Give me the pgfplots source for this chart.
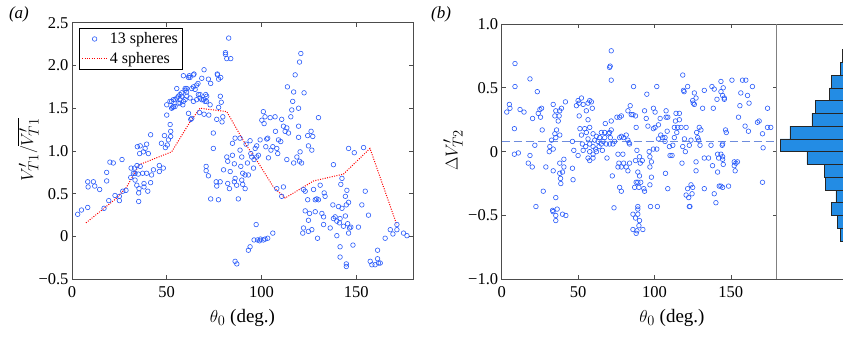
\documentclass[border=0pt]{standalone}
\usepackage{fontspec}
\setmainfont{Liberation Serif}
\usepackage{pgfplots}
\pgfplotsset{compat=1.18}

\definecolor{ptblue}{RGB}{40,90,250}
\definecolor{histblue}{RGB}{35,140,228}
\definecolor{meanline}{RGB}{110,140,220}
\definecolor{framec}{gray}{0.3}

\pgfplotsset{
  panel/.style={
    scale only axis,
    axis line style={framec, line width=0.8pt},
    tick style={framec, line width=0.7pt},
    tick align=inside,
    tick pos=both,
    major tick length=4pt,
    /pgf/number format/assume math mode=true,
    ticklabel style={font=\fontsize{16.5}{18}\selectfont},
    xticklabel style={yshift=-4pt},
    xmin=0, xmax=180,
    xtick={0,50,100,150},
    xticklabels={0,50,100,150},
  },
  pts/.style={only marks, mark=o, mark size=2.3pt, ptblue, mark options={line width=0.6pt}},
  markimg/.style={legend image code/.code={\draw[##1] plot[only marks] coordinates {(12.5pt,0pt)}; \path[draw=none] (0pt,0pt) -- (26pt,0pt);}},
  lineimg/.style={legend image code/.code={\draw[##1] (0pt,0pt) -- (25pt,0pt); \path[draw=none] (0pt,0pt) -- (26pt,0pt);}},
}

\begin{document}
\begin{tikzpicture}
\useasboundingbox (0pt,0pt) rectangle (843pt,337pt);

% ---------------- panel (a)
\begin{axis}[panel,
  at={(72pt,57.7pt)}, anchor=south west,
  width=341pt, height=256.6pt,
  ymin=-0.5, ymax=2.5,
  ytick={-0.5,0,0.5,1,1.5,2,2.5},
  yticklabels={−0.5,0,0.5,1.0,1.5,2.0,2.5},
  legend style={at={(0.02,0.979)}, anchor=north west, draw=black, line width=0.6pt,
    fill=white, font=\fontsize{16}{18}\selectfont, inner sep=2.5pt,
    nodes={inner sep=1.8pt}, row sep=3.5pt},
  legend cell align=left,
]
\addplot[pts, markimg] table {
3 0.26
5 0.31
8.3 0.64
8.5 0.58
8.3 0.34
11.3 0.64
12 0.59
14.6 0.55
18.3 0.75
18.3 0.65
16.9 0.33
20 0.87
21.8 0.86
19.4 0.42
22.7 0.48
25 0.47
25 0.42
26.8 0.53
26.4 0.90
28.5 0.54
31.2 0.80
33 0.80
31 0.69
32.4 0.74
34.5 1.05
36 1.06
35.7 0.97
34.3 0.83
36 0.82
33.3 0.66
34.2 0.60
35.4 0.56
35.2 0.51
35.2 0.41
35 0.73
37.3 0.74
38 0.62
38.6 1.03
39.4 1.08
40.3 0.97
37.7 0.99
39.4 0.74
40 0.53
41.5 0.63
42 0.72
41.5 1.19
43 0.78
33.3 0.74
38 0.58
46.1 0.83
46.1 0.76
48.2 0.80
47.2 1.09
49.3 1.04
48.8 1.18
50.3 1.07
50.9 1.13
52.1 1.17
52.1 1.23
51.8 1.31
50 1.42
50 1.54
52.6 1.58
53.2 1.51
54.4 1.52
55.3 1.73
54.4 1.60
56.2 1.64
57 1.60
57.9 1.68
57 1.56
58.5 1.54
59.7 1.60
60.6 1.64
59.7 1.71
60.6 1.73
58.8 1.88
61.5 1.86
62.3 1.86
64.1 1.89
63.2 1.73
64.1 1.75
65 1.72
65.8 1.77
66.5 1.79
62.3 1.62
64.1 1.58
65.8 1.60
67.6 1.62
69.7 1.95
68.5 1.85
67.6 1.66
69.4 1.60
70.6 1.66
71 1.58
72 1.84
73.2 1.79
76.8 1.89
78.5 1.86
61.5 1.44
62.7 1.37
63.2 1.38
67.3 1.45
69.7 1.43
72.2 1.42
72.9 1.54
77.4 1.51
78.3 1.64
76.4 1.37
79.2 1.34
79.6 1.40
74.6 1.21
74.6 1.03
70.8 0.82
70.8 0.77
72 0.71
73.2 0.44
77.3 0.43
76.1 0.64
76.4 0.59
78.2 0.64
80 0.78
81.7 0.93
82.2 0.88
82.2 0.62
83.1 0.56
83.5 0.76
82.7 2.32
81 2.15
81.7 2.08
83.8 2.08
81 2.13
51.7 1.58
53.5 1.60
52.6 1.50
55.3 1.62
56.1 1.56
57.9 1.64
58.8 1.58
60.5 1.69
59.7 1.73
57 1.66
53.5 1.52
61.9 1.88
64.4 1.90
66.7 1.66
68.5 1.60
70.2 1.58
71.1 1.64
76.7 1.90
77.4 1.84
78.8 1.57
84.7 1.09
86.1 1.15
84.7 0.95
85.7 0.85
86.1 0.68
85.7 0.64
86.9 0.60
87.8 0.44
88.7 1.15
88.7 1.01
89.6 0.93
89.1 0.82
90.1 0.74
89.6 0.66
90.1 0.61
91.4 0.56
91.4 0.72
91.9 1.08
92.6 0.86
93.1 0.72
94 1.12
94.4 0.97
94.9 0.93
95.8 0.80
96.1 0.90
96.7 1.03
97.5 1.06
98.4 0.95
97.5 0.93
99.3 1.13
100.2 1.36
101 1.46
101.9 1.40
101.4 1.32
102.3 1.05
102.8 1.14
103.3 1.15
103.7 0.92
104.6 1.39
105 1.01
106 1.05
107.2 1.40
107.4 1.23
108.1 1.03
109 1.13
108.6 0.97
110.2 1.11
110.7 1.37
111.6 1.29
112.5 1.23
113.4 1.27
113.7 1.75
114.3 1.21
115.5 1.40
116 1.48
116.5 1.58
117 1.69
117.8 1.89
119.6 1.50
119.6 1.29
119.6 1.16
120.1 2.04
120.8 2.14
122.5 1.68
113.4 0.90
117 0.86
118.7 0.93
120.1 0.88
120.4 0.99
121.2 0.86
124.4 1.18
126.2 1.23
127.1 1.17
124.8 1.06
126.6 1.01
130.1 1.39
108.1 0.56
111.6 0.58
110.7 0.47
97.2 0.14
93.1 -0.16
94 -0.12
96.1 -0.04
97.9 -0.04
99 -0.05
99.5 -0.03
101 -0.04
101.9 -0.03
103.3 -0.02
106 0.04
86.1 -0.29
87 -0.32
122.2 0.55
123.1 0.53
124.4 0.43
123.1 0.30
125.4 0.27
124.8 0.19
122.2 0.10
121.8 0.04
124.8 0.06
126.6 0.08
127.5 0.55
128.4 0.43
129.2 0.44
130.1 0.43
128.4 0.29
129.6 -0.02
131 0.60
131.9 0.27
132.8 0.23
133.1 0.51
133.6 0.47
132.8 0.14
136.3 0.10
138 0.84
137.7 0.37
138 0.21
138.9 0.23
139.8 0.18
139.8 0.01
140.7 0.35
141.5 0.21
141.2 0.16
141.5 -0.12
141.5 -0.24
141.9 0.61
142.5 0.68
142.5 0.33
143.3 0.12
144.3 0.47
144.8 0.37
145.1 0.54
144.3 0.24
145.5 0.15
146 0.40
146.5 0.10
147.2 0.11
146 0.04
146 1.03
149 0.98
148.3 -0.10
144.8 -0.32
144.8 -0.35
151.2 0.11
153 0.37
153.9 1.04
154.8 0.53
156.5 0.25
157.4 -0.29
158.3 -0.33
160 -0.33
161.8 -0.31
161.3 -0.26
162.7 -0.31
161.3 -0.16
165.3 -0.02
168 0.08
169.4 0.03
171.5 0.08
171.5 0.14
175 0.04
176.8 0.01
};
\addlegendentry{13 spheres}
\addplot[red, line width=1pt, dash pattern=on 1pt off 1.4pt, lineimg] coordinates {
(7.4,0.16) (23.6,0.45) (28.9,0.58) (35.5,0.84) (52.6,0.99) (62.3,1.34)
(67.6,1.50) (81.7,1.46) (91,1.10) (98.4,0.86) (106.3,0.58) (112.5,0.45)
(127.5,0.65) (143.3,0.73) (157.3,1.03) (171.4,0.14)
};
\addlegendentry{4 spheres}
\end{axis}

% ---------------- panel (b), scatter
\begin{axis}[panel,
  at={(501.7pt,57.7pt)}, anchor=south west,
  width=275pt, height=255.3pt,
  ymin=-1, ymax=1,
  ytick={-1,-0.5,0,0.5,1},
  yticklabels={−1.0,−0.5,0,0.5,1.0},
]
\addplot[meanline, line width=0.8pt, dash pattern=on 8pt off 4pt] coordinates {(0,0.078) (180,0.078)};
\addplot[pts] table {
3.3 0.31
5 0.37
5.4 0.34
8.7 0.69
8.7 0.51
8.3 0.18
8.3 -0.02
10.9 -0.01
12 0.33
14.6 0.31
18.5 0.57
20.2 0.26
18.5 -0.03
17.4 -0.09
20 -0.12
21.7 0.05
23.3 0.47
23.9 0.30
25 0.33
26.1 0.34
26.5 0.17
25.4 0.27
27.2 -0.31
28.9 -0.12
22.4 -0.43
31.1 0
31.5 0.04
32.6 0.09
33.7 0.37
34.8 0.28
35.4 0.32
35.9 0.17
34.8 0.14
33.7 0.02
33.7 -0.15
35.4 -0.36
33.3 -0.46
33.6 -0.47
35.4 -0.50
35.4 -0.54
36.3 -0.45
38 0.32
37 0.24
37.6 0.28
39.1 0.34
41.7 0.39
38 -0.09
38 -0.17
38.7 -0.25
38.5 -0.21
39.8 -0.16
40.7 -0.12
40.7 -0.06
39.8 -0.49
42 -0.50
38 0.13
35.4 0.11
46.3 0.08
46.3 -0.13
46.7 -0.22
47.2 0.01
48.9 0.36
50 -0.03
50 0.40
50.7 0.38
52.2 0.42
53.3 0.37
50.7 0.28
51.2 0.18
52.2 0.13
52.8 0.06
54.3 0.18
55.4 0.32
56.5 0.38
57.6 0.40
58.7 0.39
59.3 0.34
56.5 0.25
57.6 0.19
55.4 0.15
56.5 0.10
57.6 0.06
57.6 0
56.5 -0.05
57.6 -0.07
59.8 0.14
60.9 0.09
62 0.12
63 0.08
64.1 0.11
65.2 0.15
63.7 0.04
61.5 0.02
59.8 0.04
59.8 -0.02
62 0
65.2 0.06
66.3 0.08
67.4 0.11
65.9 0.01
68.5 0.06
67.8 0.22
68.9 -0.05
67.4 0.15
70 0.14
70.6 0.15
71.7 0.17
71.1 0.11
70.6 0.06
72.8 0.06
73.9 0.08
71.7 0.24
70.6 0.66
71 0.67
71.7 0.79
71.7 0.56
72.4 -0.19
73.5 -0.44
53.3 0.01
55 0.04
59.8 -0.05
75.4 0.27
77.2 0.27
78.3 0.28
77.2 0.11
76.1 -0.02
76.7 -0.09
76.1 -0.12
78.3 0.12
79.8 0.11
81.5 0.13
82.6 0.09
83.3 0.07
83.7 0.06
81.5 -0.12
79.8 -0.09
79.3 -0.02
78.3 -0.12
77.2 -0.28
78.3 -0.31
82.6 0.32
84.1 0.36
84.8 0.29
85.9 0.29
82.6 -0.15
83.7 -0.09
86.3 0.51
87.6 0.28
88 0.19
88.5 0.01
87.6 -0.07
89.1 -0.16
90.2 -0.19
90.2 -0.04
90.7 -0.09
92 -0.07
89.1 -0.24
91 -0.24
88 -0.24
89.8 -0.28
87 -0.28
93 -0.29
93.5 0.32
94.6 0.26
95.7 0.20
95 0.45
96.5 0
97 -0.04
98 -0.08
97 -0.12
98 -0.20
97 -0.26
93.5 -0.31
85.9 -0.49
87.6 -0.52
85.9 -0.61
88.5 -0.62
89.1 -0.43
89.1 -0.45
89.1 -0.49
90.2 -0.54
89.8 -0.58
88 -0.64
92.4 -0.61
97.4 -0.43
99.3 0.34
100.4 0.31
99.3 0.18
100.4 0.19
101.5 0.51
101.9 -0.43
99.3 0.02
101.5 0.02
102.6 0.10
102.6 0.21
103.7 0.26
104.1 0.13
105.4 0.11
106.9 0.11
107.2 -0.17
107.6 0.32
107.6 0.27
108.7 0.27
108.7 -0.29
106.9 0.08
108.3 0.16
109.8 0.04
110.2 -0.03
111.5 -0.03
112 0.05
113 0.11
113 0.19
114.1 0.30
113.7 0.24
115.2 0.19
114.6 0.15
116.3 0.25
116.3 0.30
117.4 0.19
118.5 0.60
119 0.48
119.4 0.47
118.5 0.04
118 -0.09
119.6 0.10
120.2 0
120.7 0.19
121.7 0.51
121.7 -0.29
120.7 -0.34
122.4 -0.36
122.8 -0.43
123.2 -0.43
123.9 -0.26
125 -0.28
124.6 -0.33
122.8 0.05
123.9 0.09
125 0.40
126.1 0.46
125.4 0.38
126.1 0.37
127.2 0.42
127.6 0.15
128.3 0.11
128.9 0.09
129.3 0.19
130.4 0.17
129.8 0.05
127.2 -0.08
127.2 -0.15
131.5 0.34
132.6 0.48
132.6 -0.29
132.6 -0.05
135.4 -0.05
137 0.05
137.6 0.51
138.5 0.34
139.1 0.49
138 -0.11
139.1 -0.33
140.2 -0.40
140.9 0.41
141.3 -0.02
141.3 -0.16
142 -0.05
142.4 -0.27
143.5 -0.27
143.5 0.55
143.5 0.47
144.6 0.44
145.7 0.42
145.7 0.41
145 0.50
144.3 0.05
143.5 -0.02
144.6 -0.04
144.6 -0.06
145 -0.10
144.6 0.06
146.5 0.17
147 0.15
144.6 -0.28
148.5 -0.27
150.7 0.56
152.2 -0.08
153.3 -0.09
152.2 -0.11
152.8 -0.15
154.3 -0.08
155 0.27
155.9 0.36
156.5 0.46
157.6 0.56
159.8 0.56
159.3 0.20
160.9 0.44
161.5 0.16
161.9 0.38
164.1 0.51
167.4 0.23
168.5 0.24
170.7 0.14
170.7 -0.24
171.1 0.03
174 0.34
174 0.19
176.1 0.19
};
\end{axis}

% ---------------- panel (b), marginal histogram of the same quantity
\begin{axis}[
  at={(776.7pt,57.7pt)}, anchor=south west,
  scale only axis,
  width=68.3pt, height=255.3pt,
  x dir=reverse,
  xmin=-2.83, xmax=93.7,
  ymin=-1, ymax=1,
  hide axis,
  clip=false,
]
\addplot[xbar interval, fill=histblue, draw=black!85, line width=0.5pt] coordinates {
(4,-0.7) (8,-0.6) (16,-0.5) (10,-0.4) (25,-0.3) (26,-0.2) (51,-0.1)
(89,0) (75,0.1) (44,0.2) (39,0.3) (19,0.4) (16,0.5) (4,0.6) (1,0.7) (1,0.8)
};
\draw[framec, line width=0.8pt] (rel axis cs:0,1) -- (rel axis cs:1,1);
\draw[framec, line width=0.8pt] (rel axis cs:0,0) -- (rel axis cs:1,0);
\draw[gray, line width=0.8pt] (axis cs:93.7,-1) -- (axis cs:93.7,1);
\end{axis}

% ---------------- labels
\node[font=\fontsize{19}{22}\selectfont] at (242.5pt,19pt) {$\theta_0$ (deg.)};
\node[font=\fontsize{19}{22}\selectfont] at (672pt,19pt) {$\theta_0$ (deg.)};
\node[font=\fontsize{19}{22}\selectfont, rotate=90] at (28pt,187pt) {$V'_{T1}/\overline{V'_{T1}}$};
\node[font=\fontsize{19}{22}\selectfont, rotate=90] at (453pt,187pt) {$\Delta V'_{T2}$};
\node[font=\fontsize{17}{20}\selectfont\itshape] at (19pt,323pt) {(a)};
\node[font=\fontsize{17}{20}\selectfont\itshape] at (441pt,323pt) {(b)};
\end{tikzpicture}
\end{document}
